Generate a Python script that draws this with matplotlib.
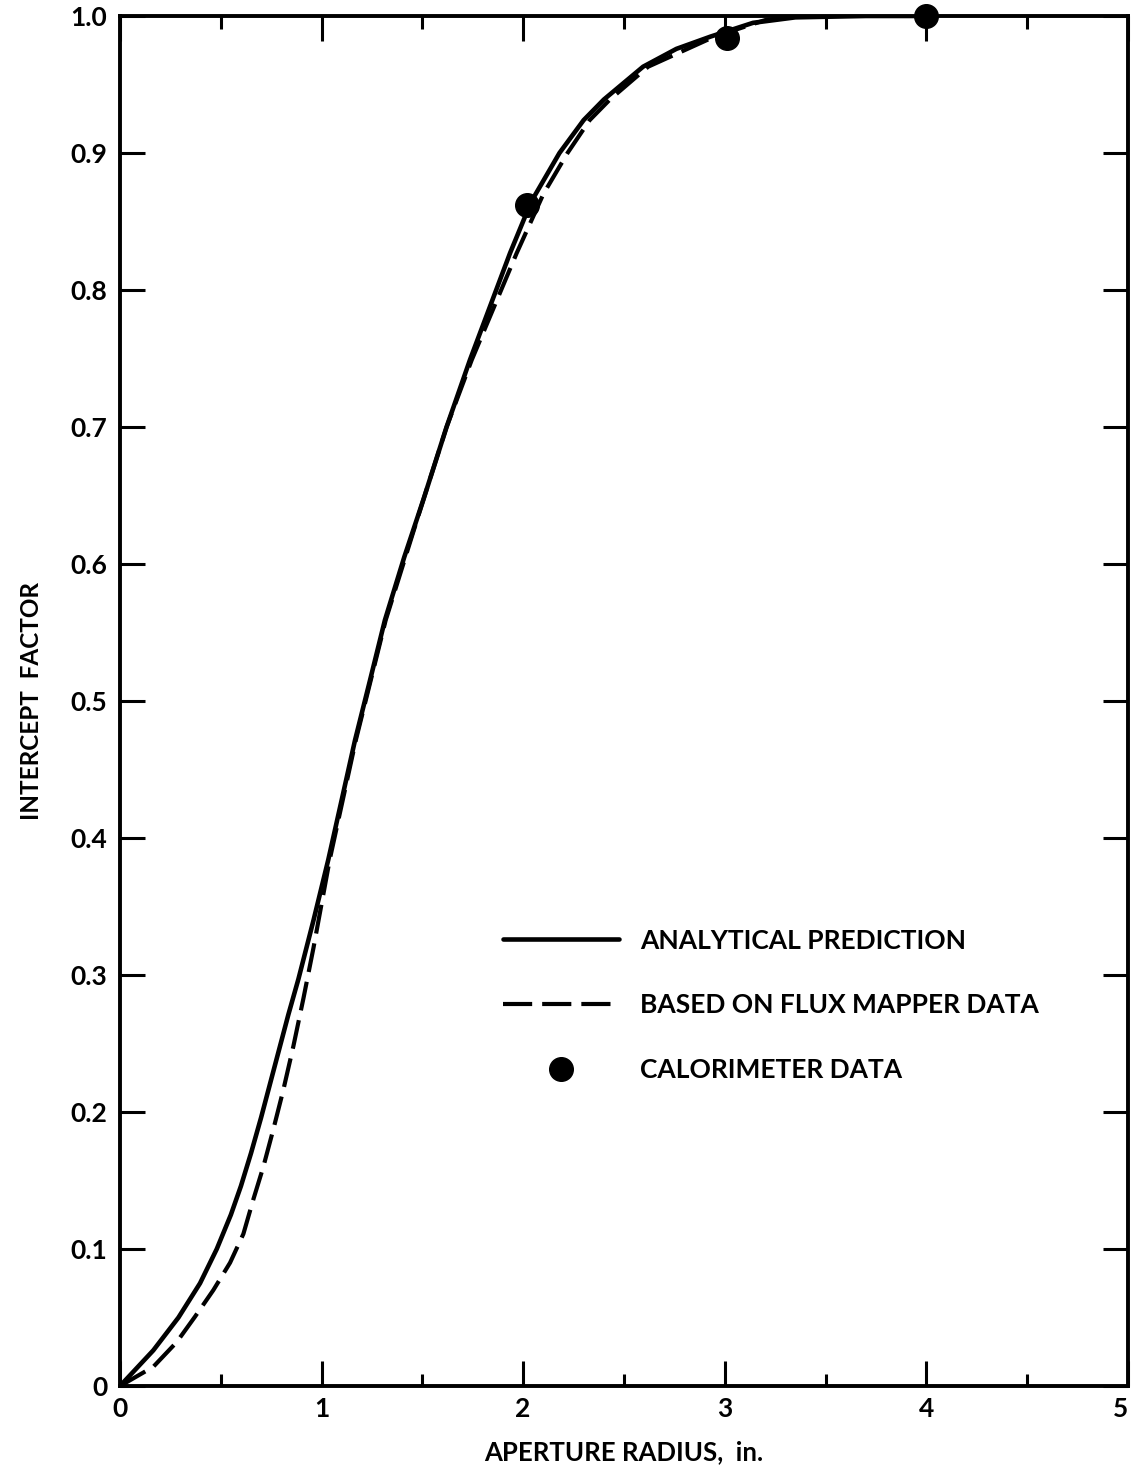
import matplotlib
matplotlib.use("Agg")
import matplotlib.pyplot as plt
from matplotlib.ticker import FixedLocator

# --- Daten ---
analytisch_x = [0, 0.165, 0.29, 0.397, 0.48, 0.55, 0.60, 0.65, 0.70, 0.745,
                0.79, 0.835, 0.885, 0.96, 1.033, 1.10, 1.166, 1.24, 1.314,
                1.41, 1.505, 1.62, 1.736, 1.935, 2.04, 2.18, 2.30, 2.40,
                2.595, 2.76, 2.93, 3.14, 3.35, 3.7, 4.0]
analytisch_y = [0, 0.026, 0.05, 0.075, 0.10, 0.125, 0.146, 0.17, 0.196, 0.221,
                0.246, 0.271, 0.297, 0.34, 0.384, 0.428, 0.4715, 0.515, 0.559,
                0.605, 0.647, 0.70, 0.749, 0.827, 0.8645, 0.900, 0.924, 0.939,
                0.963, 0.976, 0.985, 0.995, 0.999, 1.0, 1.0]

flux_x = [0, 0.165, 0.281, 0.372, 0.463, 0.546, 0.612, 0.661, 0.711, 0.76,
          0.81, 0.86, 0.91, 0.96, 1.04, 1.17, 1.318, 1.505, 1.62, 1.745,
          1.968, 2.10, 2.22, 2.33, 2.43, 2.62, 2.95, 3.2, 3.35]
flux_y = [0, 0.014, 0.032, 0.0506, 0.070, 0.090, 0.111, 0.136, 0.160, 0.187,
          0.216, 0.248, 0.283, 0.32, 0.384, 0.4715, 0.559, 0.647, 0.70, 0.749,
          0.827, 0.87, 0.900, 0.924, 0.939, 0.963, 0.985, 0.997, 1.0]

kalorimeter_x = [2.02, 3.01, 4.0]
kalorimeter_y = [0.862, 0.984, 1.0]

x_ticks = [0, 1, 2, 3, 4, 5]
x_minor = [0.5, 1.5, 2.5, 3.5, 4.5]
y_ticks = [0, 0.1, 0.2, 0.3, 0.4, 0.5, 0.6, 0.7, 0.8, 0.9, 1.0]
y_labels = ["0", "0.1", "0.2", "0.3", "0.4", "0.5", "0.6", "0.7", "0.8", "0.9", "1.0"]

plt.rcParams["font.family"] = ["Lato", "DejaVu Sans"]
plt.rcParams["font.weight"] = "bold"

fig = plt.figure(figsize=(11.31, 14.67), dpi=100)
ax = fig.add_axes([0.1061, 0.0552, 0.8912, 0.9339])

# --- Kurven ---
ax.plot(analytisch_x, analytisch_y, color="black", linewidth=3.3,
        solid_capstyle="round", solid_joinstyle="round",
        label="ANALYTICAL PREDICTION", zorder=3)
ax.plot(flux_x, flux_y, color="black", linewidth=3.0,
        dashes=(7, 2.4), label="BASED ON FLUX MAPPER DATA", zorder=3)
ax.plot(kalorimeter_x, kalorimeter_y, linestyle="none", marker="o",
        markersize=17, color="black", label="CALORIMETER DATA",
        clip_on=False, zorder=4)

ax.set_xlim(0, 5)
ax.set_ylim(0, 1.0)

# --- Achsen und Ticks ---
for s in ax.spines.values():
    s.set_linewidth(2.8)

ax.xaxis.set_major_locator(FixedLocator(x_ticks))
ax.xaxis.set_minor_locator(FixedLocator(x_minor))
ax.set_yticks(y_ticks)
ax.set_yticklabels(y_labels)
ax.set_xticklabels([str(v) for v in x_ticks])

ax.tick_params(axis="both", which="major", direction="in", length=18,
               width=2.2, top=True, right=True, labelsize=19, pad=9)
ax.tick_params(axis="x", which="minor", direction="in", length=9,
               width=2.2, top=True)
ax.tick_params(axis="x", which="major", pad=8)

# letzte Beschriftung "5" nach links schieben, sonst abgeschnitten
ax.get_xticklabels()[-1].set_horizontalalignment("right")

ax.set_xlabel("APERTURE RADIUS,  in.", fontsize=18.5, fontweight="bold",
              labelpad=14)
ax.set_ylabel("INTERCEPT  FACTOR", fontsize=17.5, fontweight="bold",
              labelpad=20)

leg = ax.legend(loc="upper left", bbox_to_anchor=(0.37, 0.3416),
                frameon=False, fontsize=19, handlelength=4.36,
                handletextpad=0.83, labelspacing=1.55, borderaxespad=0)
for t in leg.get_texts():
    t.set_fontweight("bold")

fig.savefig("out.png", dpi=100, facecolor="white")
